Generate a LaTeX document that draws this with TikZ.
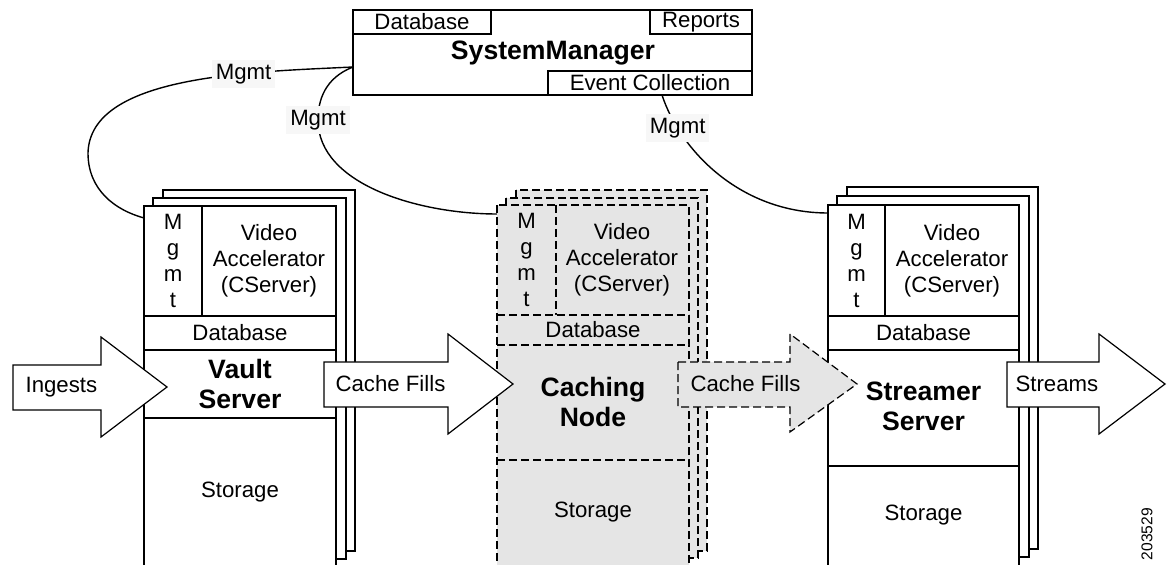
\documentclass[tikz,border=0pt]{standalone}
\usepackage{fontspec}
\setmainfont{Liberation Sans}
\begin{document}
\begin{tikzpicture}[x=.5pt, y=-.5pt, line width=.6pt,
  txt/.style={font=\fontsize{11.1}{13}\selectfont, align=center, inner sep=0pt},
  big/.style={font=\fontsize{13.3}{15}\selectfont\bfseries, align=center, inner sep=0pt},
  lbl/.style={font=\fontsize{11.1}{13}\selectfont, fill=gray!6, inner sep=2pt},
  pg/.style={draw, fill=white},
  dpg/.style={draw, fill=gray!20, dash pattern=on 4pt off 2pt}]
\useasboundingbox (0,0) rectangle (1170,565);
\coordinate (smw) at (353,67); \coordinate (ec) at (662,95);
\coordinate (vmg) at (144,218); \coordinate (cmg) at (497,214); \coordinate (smg) at (828,213);
% mgmt links
\draw[line width=.7pt] (smw) .. controls (250,72) and (90,75) .. (88,153) node[lbl, pos=.32] (mg1) {Mgmt}
  .. controls (88,190) and (115,210) .. (vmg);
\draw[line width=.7pt] (smw) .. controls (325,78) and (318,100) .. (318,120) node[lbl] (mg2) {Mgmt}
  .. controls (318,185) and (420,214) .. (cmg);
\draw[line width=.7pt] (ec) .. controls (680,150) and (740,213) .. (smg) node[lbl, pos=.2] (mg3) {Mgmt};
% system manager
\draw[pg] (353,10) rectangle (752,95);
\draw (353,10) rectangle (491,34); \draw (650,10) rectangle (752,34); \draw (548,71) rectangle (752,95);
\node[txt] (sysdb) at (422,22) {Database};
\node[txt] (rep) at (701,22) {Reports};
\node[big] (sys) at (553,53) {SystemManager};
\node[txt] (evc) at (650,83) {Event Collection};
% vault server
\draw[pg] (163,190) rectangle (355,551); \draw[pg] (153,198) rectangle (346,559);
\draw[pg] (144,206) rectangle (336,570);
\draw (202,206)--(202,316); \draw (144,316)--(336,316); \draw (144,350)--(336,350); \draw (144,418)--(336,418);
\node[txt] (vm) at (173,261) {M\\g\\m\\t};
\node[txt] (vva) at (269,261) {Video\\Accelerator\\(CServer)};
\node[txt] (vdb) at (240,333) {Database};
\node[big] (vs) at (240,384) {Vault\\Server};
\node[txt] (vst) at (240,492) {Storage};
% caching node
\draw[dpg] (516,190) rectangle (707,551); \draw[dpg] (506,198) rectangle (698,558);
\draw[dpg] (497,205) rectangle (689,570);
\draw[dpg] (556,205)--(556,315); \draw[dpg] (497,315)--(689,315); \draw[dpg] (497,345)--(689,345); \draw[dpg] (497,460)--(689,460);
\node[txt] (cm) at (526.5,260) {M\\g\\m\\t};
\node[txt] (cva) at (622,260) {Video\\Accelerator\\(CServer)};
\node[txt] (cdb) at (593,330) {Database};
\node[big] (cn) at (593,402) {Caching\\Node};
\node[txt] (cst) at (593,512) {Storage};
% streamer server
\draw[pg] (847,187) rectangle (1038,549); \draw[pg] (837,196) rectangle (1029,557);
\draw[pg] (828,205) rectangle (1019,570);
\draw (885,205)--(885,316); \draw (828,316)--(1019,316); \draw (828,350)--(1019,350); \draw (828,466)--(1019,466);
\node[txt] (stm) at (856.5,261) {M\\g\\m\\t};
\node[txt] (stva) at (952,261) {Video\\Accelerator\\(CServer)};
\node[txt] (stdb) at (923.5,333) {Database};
\node[big] (sts) at (923.5,406) {Streamer\\Server};
\node[txt] (stst) at (923.5,515) {Storage};
% flows
\draw[pg] (13,365)--(101,365)--(101,337)--(167,387)--(101,437)--(101,410)--(13,410)--cycle;
\draw[pg] (324,362)--(448,362)--(448,334)--(513,384)--(448,434)--(448,407)--(324,407)--cycle;
\draw[dpg] (678,362)--(790,362)--(790,334)--(857,384)--(790,432)--(790,407)--(678,407)--cycle;
\draw[pg] (1007,362)--(1099,362)--(1099,334)--(1165,384)--(1099,434)--(1099,407)--(1007,407)--cycle;
\node[txt, anchor=west] (ing) at (25,387) {Ingests};
\node[txt, anchor=west] (cf1) at (335,384) {Cache Fills};
\node[txt, anchor=west] (cf2) at (690,384) {Cache Fills};
\node[txt, anchor=west] (str) at (1015,384) {Streams};
\node[font=\fontsize{7.8}{9}\selectfont, rotate=90, inner sep=0pt] (fig) at (1147,534) {203529};
\end{tikzpicture}
\end{document}
